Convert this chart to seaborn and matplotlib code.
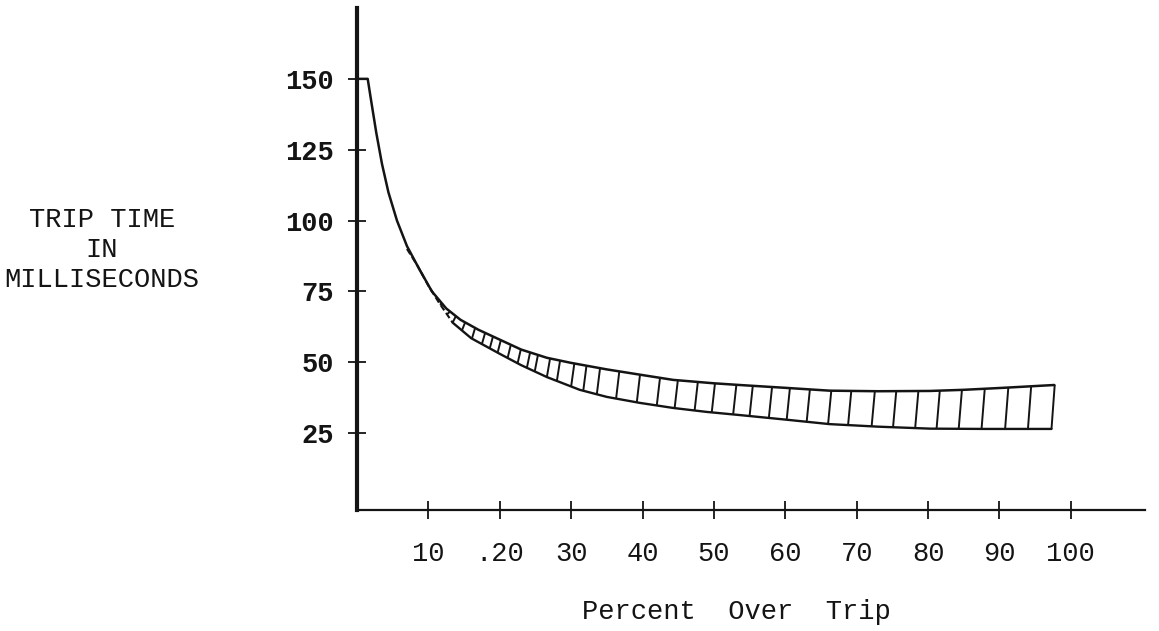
import numpy as np
import pandas as pd
import matplotlib
matplotlib.use("Agg")
import matplotlib.pyplot as plt
import seaborn as sns

# ---- data ----
upper_x = [0.0, 1.5, 2.0, 2.7, 3.5, 4.4, 5.6, 7.0, 8.7, 10.5, 12.5, 14.5, 17.0, 20.0, 23.0,
           26.6, 30.0, 35.0, 40.0, 44.3, 50.0, 53.6, 60.0, 66.2, 73.0, 80.3, 85.0,
           90.5, 97.7]
upper_y = [150, 150, 142, 131, 120, 110, 100, 91, 83, 75, 69, 65, 61.5, 58, 54.5,
           51.6, 49.8, 47.5, 45.5, 43.8, 42.6, 42, 41, 40, 39.8, 39.9, 40.3,
           41, 42]

lower_x = [7.0, 8.5, 10.0, 11.5, 13.4, 16.0, 20.0, 23.0, 26.6, 31.2, 35.0, 39.6,
           44.3, 49.0, 53.6, 60.0, 66.2, 73.0, 80.3, 88.0, 97.3]
lower_y = [90, 84, 77, 71, 64, 58.5, 53, 49, 44.8, 40.3, 37.8, 35.7,
           33.9, 32.5, 31.4, 29.8, 28.2, 27.3, 26.6, 26.5, 26.5]

hatch_x = [8.8, 10.2, 11.6, 12.6, 13.4, 14.7, 16.1, 17.5, 18.6, 19.7, 21.1, 22.5,
           23.8, 24.9, 26.6, 28.0, 30.0, 31.7, 33.6, 36.3, 39.2, 42.0, 44.5,
           47.3, 49.7, 52.7, 55.0, 57.7, 60.2, 63.0, 66.0, 68.8, 72.1, 75.1,
           78.2, 81.2, 84.3, 87.5, 90.8, 94.0, 97.3]
dashed_until = 13.4

x_ticks = [10, 20, 30, 40, 50, 60, 70, 80, 90, 100]
x_tick_labels = ["10", ".20", "30", "40", "50", "60", "70", "80", "90", "100"]
y_ticks = [25, 50, 75, 100, 125, 150]
y_tick_labels = ["25", "50", "75", "100", "125", "150"]

x_label = "Percent  Over  Trip"
y_label = "TRIP TIME\nIN\nMILLISECONDS"

# ---- style ----
sns.set_theme(style="white")
plt.rcParams['font.family'] = ['Liberation Mono', 'DejaVu Sans Mono']
ink = "#141414"

W, H = 1159, 631
fig = plt.figure(figsize=(W / 100, H / 100), dpi=100)
fig.patch.set_facecolor("white")
left_px, right_px, bottom_px, top_px = 357, 1145, 510, 8
ax = fig.add_axes([left_px / W, 1 - bottom_px / H,
                   (right_px - left_px) / W, (bottom_px - top_px) / H])
ax.set_facecolor("white")

up = pd.DataFrame({"x": upper_x, "y": upper_y})
sns.lineplot(data=up, x="x", y="y", color=ink, lw=1.8, estimator=None,
             sort=False, ax=ax)

low = pd.DataFrame({"x": lower_x, "y": lower_y})
low_dash = low[low["x"] <= dashed_until]
low_solid = low[low["x"] >= dashed_until]
sns.lineplot(data=low_dash, x="x", y="y", color=ink, lw=1.5, estimator=None,
             sort=False, ax=ax, linestyle=(0, (3, 1.5)))
sns.lineplot(data=low_solid, x="x", y="y", color=ink, lw=1.7, estimator=None,
             sort=False, ax=ax)

slant = 0.45
for hx in hatch_x:
    yb = np.interp(hx, lower_x, lower_y)
    xt = hx + slant
    yt = np.interp(xt, upper_x, upper_y)
    ax.plot([hx, xt], [yb, yt], color=ink, lw=1.4, solid_capstyle="butt")

ax.set_xlim(0, 110.4)
ax.set_ylim(-2.1, 175)

for s in ["top", "right"]:
    ax.spines[s].set_visible(False)
ax.spines["left"].set_linewidth(3.0)
ax.spines["bottom"].set_linewidth(1.6)
ax.spines["left"].set_color(ink)
ax.spines["bottom"].set_color(ink)

ax.set_xticks(x_ticks)
ax.set_xticklabels(x_tick_labels)
ax.set_yticks(y_ticks)
ax.set_yticklabels(y_tick_labels)
ax.tick_params(axis="both", direction="inout", length=13, width=1.3,
               colors=ink, labelsize=19.5)
ax.tick_params(axis="x", pad=16, bottom=True)
ax.tick_params(axis="y", pad=10, left=True)
for lab in ax.get_yticklabels():
    lab.set_fontweight("bold")
ax.grid(False)

ax.set_xlabel(x_label, fontsize=19.5, color=ink, va="center")
ax.xaxis.set_label_coords((736 - left_px) / (right_px - left_px),
                          (bottom_px - 612) / (bottom_px - top_px))
ax.set_ylabel(y_label, fontsize=19.5, color=ink, rotation=0, ha="center",
              va="center", multialignment="center", linespacing=1.2)
ax.yaxis.set_label_coords((102 - left_px) / (right_px - left_px),
                          (bottom_px - 250) / (bottom_px - top_px))

fig.savefig("out.png", dpi=100, facecolor="white")
